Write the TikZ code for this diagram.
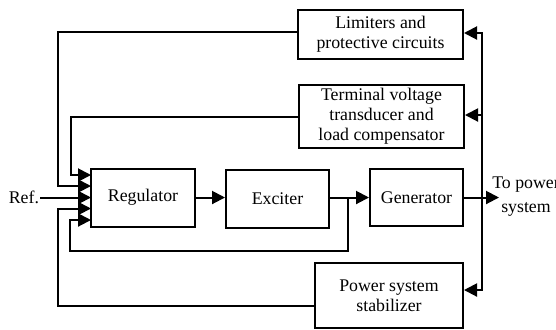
\documentclass[tikz,border=0pt]{standalone}
\usepackage{fontspec}
\setmainfont{Liberation Serif}
\usetikzlibrary{arrows.meta}

\tikzset{
  block/.style={draw, line width=1pt, align=center, inner sep=0pt},
  arr/.style={-{Triangle[length=6.5pt,width=6.5pt]}},
  every node/.style={font=\fontsize{8.9}{10}\selectfont},
}

\begin{document}
\begin{tikzpicture}[x=0.5pt, y=-0.5pt, line width=1pt]
\useasboundingbox (0,0) rectangle (556,329);

% main chain
\node[block, minimum width=52pt, minimum height=29pt] (reg) at (143,197.5) {Regulator};
\node[block, minimum width=51.5pt, minimum height=29pt] (exc) at (277.5,198.5) {Exciter};
\node[block, minimum width=46.5pt, minimum height=28.5pt] (gen) at (416.5,197.5) {Generator};

% feedback blocks
\node[block, minimum width=82.5pt, minimum height=24.5pt] (lim) at (380.5,34.5) {Limiters and\\protective circuits};
\node[block, minimum width=82.5pt, minimum height=31.5pt] (tvt) at (381.5,116.5) {Terminal voltage\\transducer and\\load compensator};
\node[block, minimum width=74pt, minimum height=32.5pt] (pss) at (389,295.5) {Power system\\stabilizer};

\node[anchor=east, inner sep=0pt] (ref) at (40,197.5) {Ref.};
\node[align=center, inner sep=0pt, font=\fontsize{8.9}{12}\selectfont] (out) at (526,197) {To power\\system};

% regulator inputs
\coordinate (in1) at (91,175);
\coordinate (in2) at (91,186);
\coordinate (in3) at (91,197.5);
\coordinate (in4) at (91,208.5);
\coordinate (in5) at (91,220);
\coordinate (fb) at (348,197.5);
\coordinate (sp) at (482,197.5);
\coordinate (tip) at (499,197.5);

\draw[arr] (reg.east) -- (exc.west |- reg.east);
\draw[arr] (exc.east |- gen.west) -- (gen.west);
\draw[arr] (gen.east) -- (tip);

\draw[arr] (ref.east) -- (in3);
\draw[arr] (tvt.west) -| (71,175) -- (in1);
\draw[arr] ([yshift=1.25pt]lim.west) -| (58,186) -- (in2);
\draw[arr] ([yshift=-5pt]pss.west) -| (58,208.5) -- (in4);
\draw[arr] (fb) |- (70,251) |- (in5);

\draw[arr] (sp) |- ([yshift=0.75pt]lim.east);
\draw[arr] (sp) |- ([yshift=0.75pt]tvt.east);
\draw[arr] (sp) |- ([yshift=2.75pt]pss.east);
\end{tikzpicture}
\end{document}
